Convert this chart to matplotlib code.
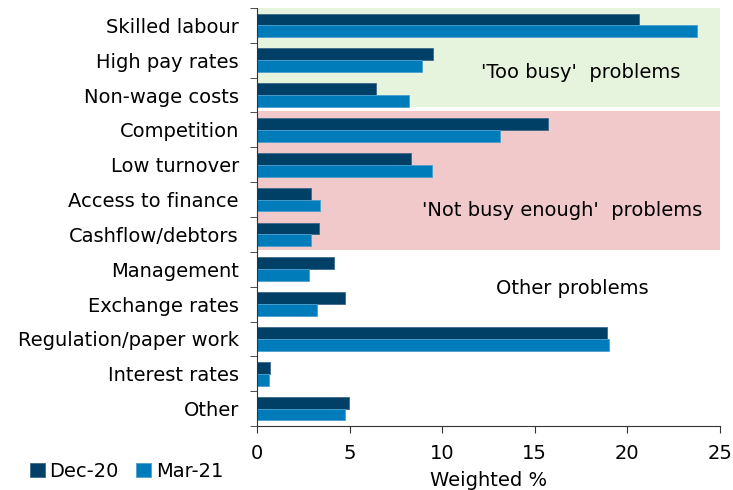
import numpy as np
import matplotlib.pyplot as plt

categories = ["Skilled labour", "High pay rates", "Non-wage costs", "Competition",
              "Low turnover", "Access to finance", "Cashflow/debtors", "Management",
              "Exchange rates", "Regulation/paper work", "Interest rates", "Other"]
dec20 = [20.6, 9.5, 6.4, 15.7, 8.3, 2.9, 3.35, 4.15, 4.75, 18.9, 0.7, 4.95]
mar21 = [23.75, 8.9, 8.2, 13.1, 9.45, 3.4, 2.9, 2.8, 3.25, 19.0, 0.65, 4.75]

dark = "#003f66"
light = "#007cba"
fs = 14

fig = plt.figure(figsize=(7.33, 4.9), dpi=100)
ax = fig.add_axes([257 / 733, 1 - 426 / 490, 463 / 733, 418 / 490])

y = np.arange(len(categories))
h = 0.34

# shaded groups
ax.axhspan(-0.5, 2.35, color="#e6f4dd", lw=0, zorder=0)
ax.axhspan(2.45, 6.45, color="#f1c9ca", lw=0, zorder=0)

ax.barh(y - h / 2, dec20, height=h, color=dark, edgecolor="#3d6a8a", lw=0.6,
        label="Dec-20", zorder=2)
ax.barh(y + h / 2, mar21, height=h, color=light, edgecolor="#4aa0cf", lw=0.6,
        label="Mar-21", zorder=2)

ax.set_xlim(0, 25)
ax.set_ylim(len(categories) - 0.5, -0.5)
ax.set_xticks([0, 5, 10, 15, 20, 25])
ax.set_yticks(y)
ax.set_yticklabels(categories)
ax.set_yticks(np.arange(-0.5, len(categories), 1), minor=True)
ax.tick_params(axis="y", which="major", length=0, pad=13, labelsize=fs)
ax.tick_params(axis="y", which="minor", length=5, color="#333333")
ax.tick_params(axis="x", length=5, labelsize=fs, color="#333333", pad=8)
ax.set_xlabel("Weighted %", fontsize=fs, labelpad=6)

for s in ["top", "right"]:
    ax.spines[s].set_visible(False)
for s in ["left", "bottom"]:
    ax.spines[s].set_color("#333333")

ax.text(17.5, 1.35, "'Too busy'  problems", fontsize=fs, ha="center", va="center")
ax.text(16.5, 5.3, "'Not busy enough'  problems", fontsize=fs, ha="center", va="center")
ax.text(17.0, 7.55, "Other problems", fontsize=fs, ha="center", va="center")

fig.legend(loc="lower left", bbox_to_anchor=(0.025, -0.005), ncol=2, frameon=False,
           fontsize=fs, handlelength=0.75, handleheight=0.75, handletextpad=0.25,
           columnspacing=0.9, borderaxespad=0.2)

fig.savefig("out.png", dpi=100)
